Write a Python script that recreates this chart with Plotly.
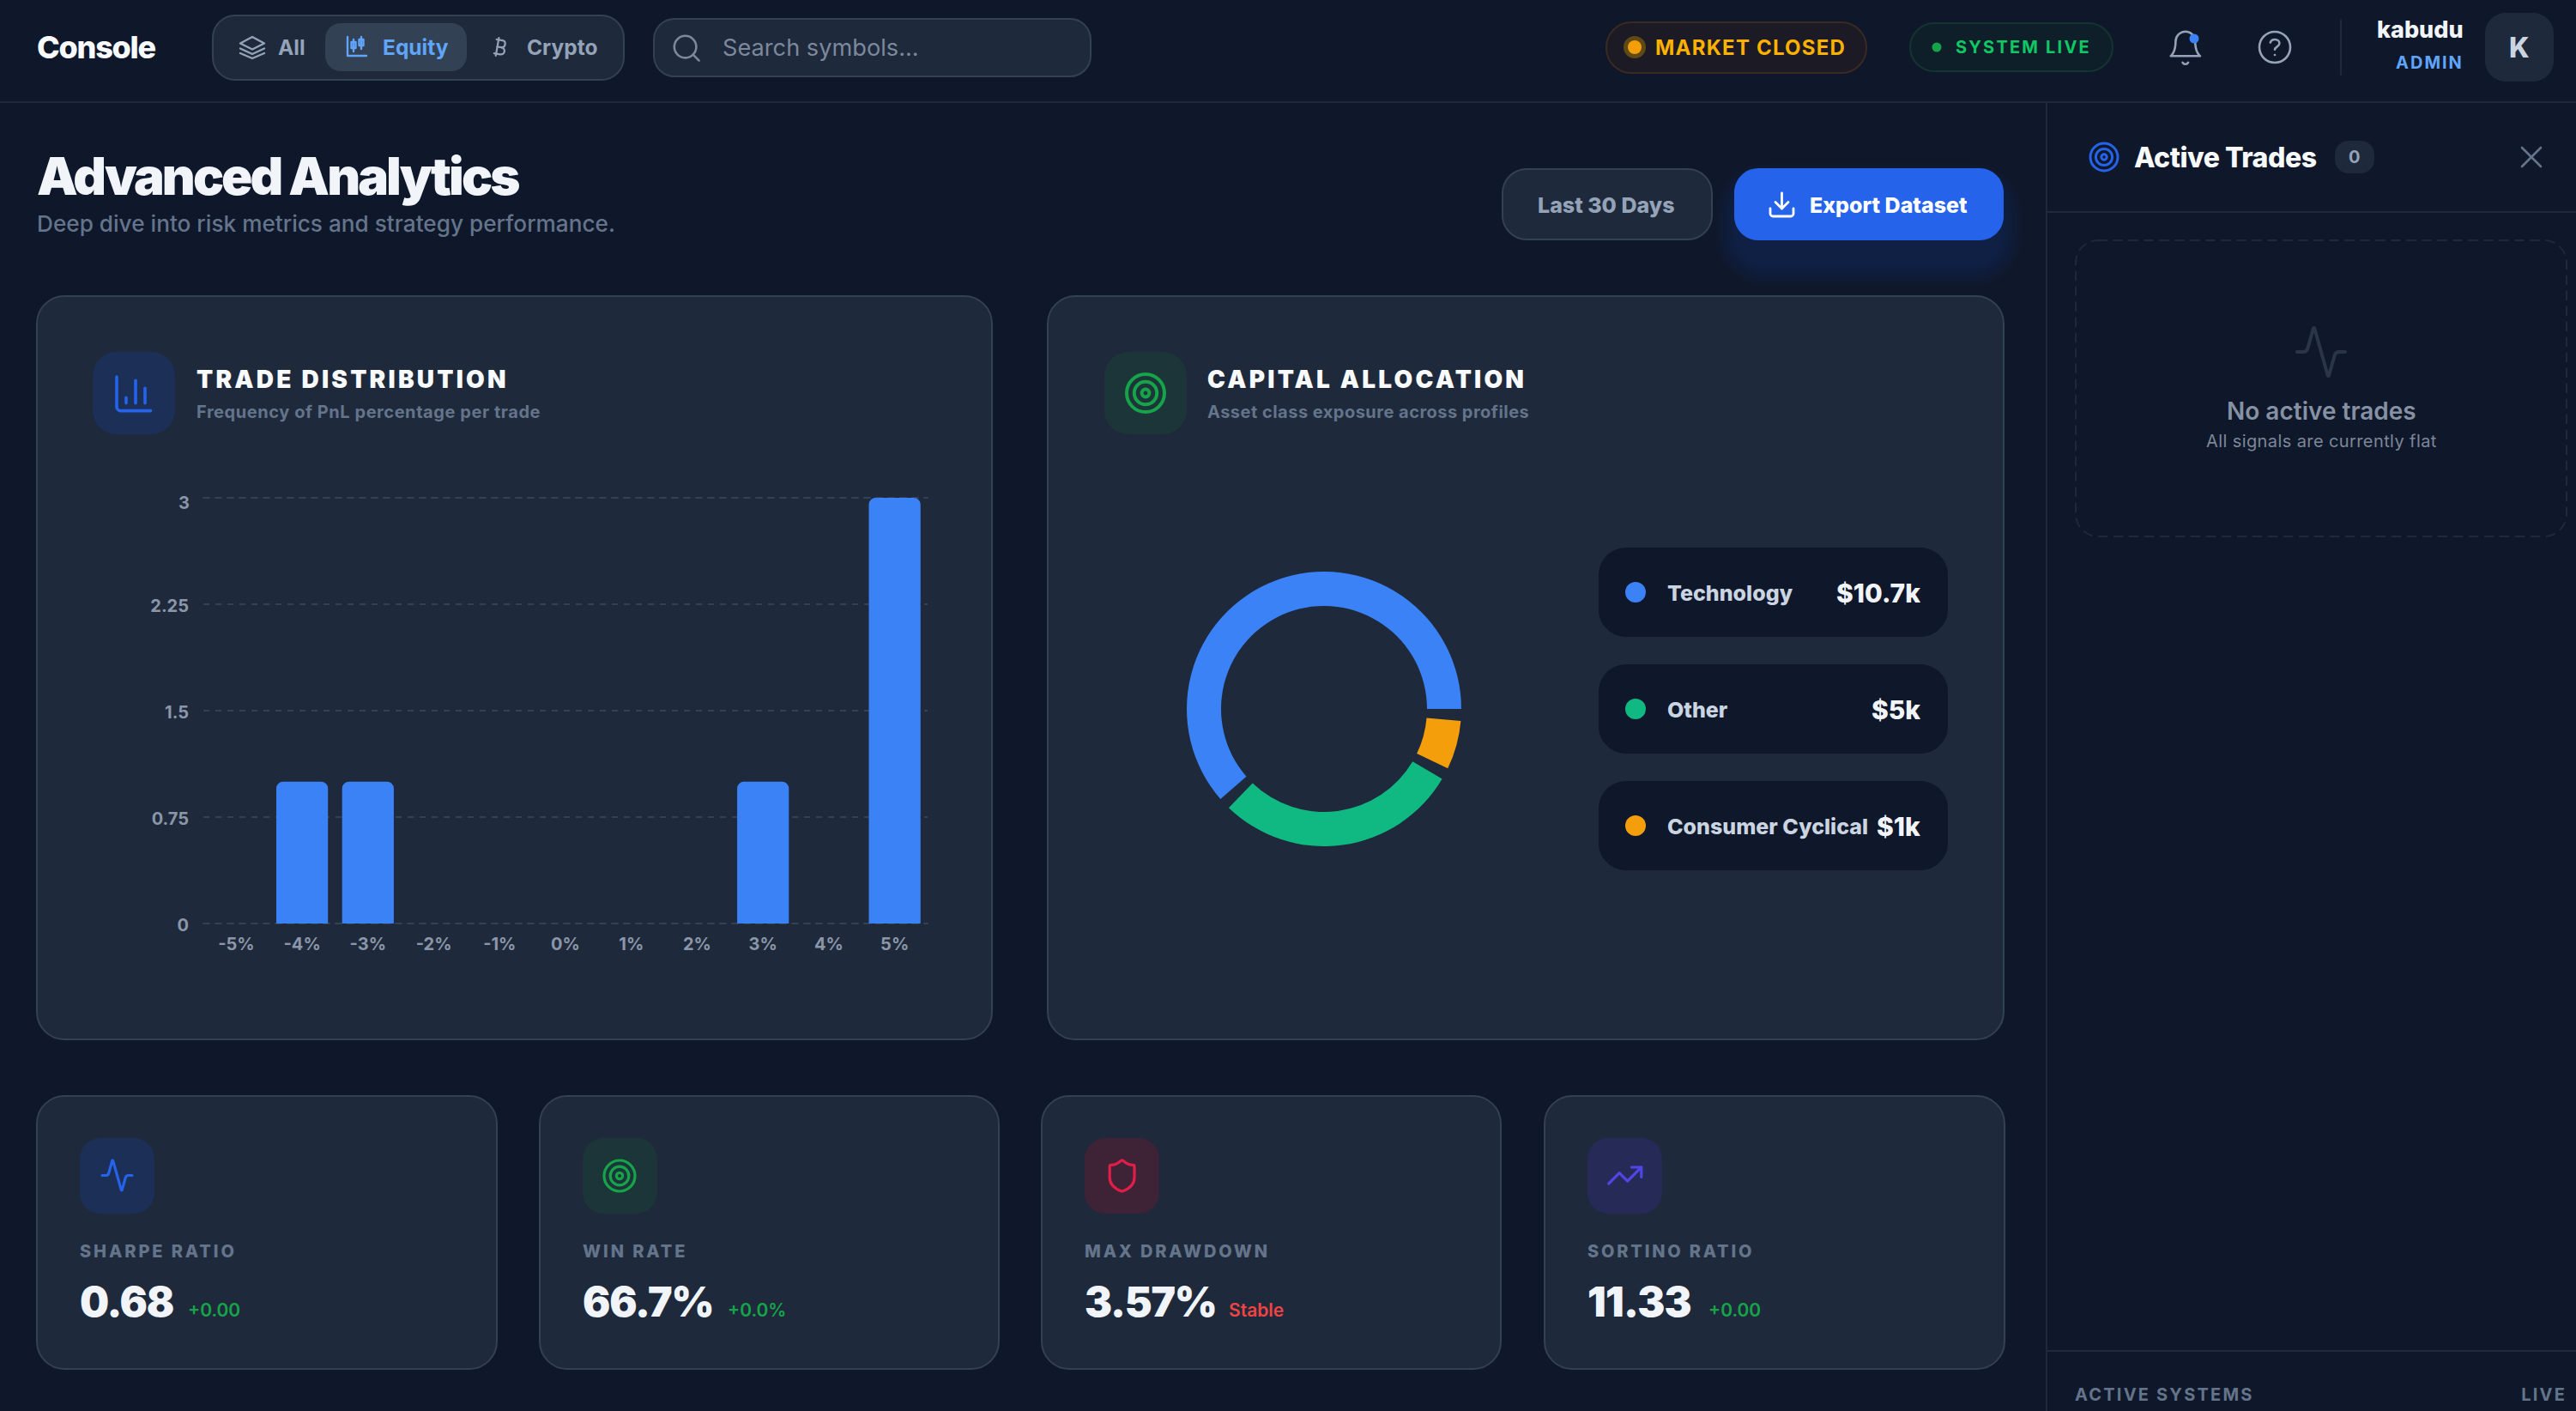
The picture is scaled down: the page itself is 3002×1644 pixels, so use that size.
import plotly.graph_objects as go

W, H = 3002, 1644
BG = "#0f172a"
CARD = "#1e293b"
EDGE = "#334155"

# trade distribution
pnl_bins = ["-5%", "-4%", "-3%", "-2%", "-1%", "0%", "1%", "2%", "3%", "4%", "5%"]
trade_counts = [0, 1, 1, 0, 0, 0, 0, 0, 1, 0, 3]
count_ticks = [0, 0.75, 1.5, 2.25, 3]

# capital allocation
alloc_names = ["Technology", "Other", "Consumer Cyclical"]
alloc_values = [10.7, 5, 1]
alloc_labels = ["$10.7k", "$5k", "$1k"]
alloc_colors = ["#3b82f6", "#10b981", "#f59e0b"]
PAD_ANGLE = 5

# metric cards
metric_names = ["SHARPE RATIO", "WIN RATE", "MAX DRAWDOWN", "SORTINO RATIO"]
metric_values = ["0.68", "66.7%", "3.57%", "11.33"]
metric_deltas = ["+0.00", "+0.0%", "Stable", "+0.00"]
delta_colors = ["#16a34a", "#16a34a", "#ef4444", "#16a34a"]

# letter spacing for the tracked labels (em)
tracking = {
    "Advanced Analytics": -0.049, "Console": -0.035, "Active Trades": -0.015,
    "TRADE DISTRIBUTION": 0.115, "CAPITAL ALLOCATION": 0.115,
    "MARKET CLOSED": 0.05, "SYSTEM LIVE": 0.11, "ADMIN": 0.1,
    "SHARPE RATIO": 0.145, "WIN RATE": 0.145, "MAX DRAWDOWN": 0.14, "SORTINO RATIO": 0.14,
    "ACTIVE SYSTEMS": 0.11, "LIVE": 0.11,
    "0.68": -0.025, "66.7%": -0.025, "3.57%": -0.025, "11.33": -0.015,
    "All signals are currently flat": 0.02,
    "Frequency of PnL percentage per trade": 0.028, "Asset class exposure across profiles": 0.024,
}

shapes = []
notes = []


def fx(x):
    return x / W


def fy(y):
    return 1 - y / H


def add_path(path, fill=None, line=None, width=2, dash=None):
    shapes.append(dict(
        type="path", xref="paper", yref="paper", layer="below", path=path,
        fillcolor=fill or "rgba(0,0,0,0)",
        line=dict(color=line or "rgba(0,0,0,0)", width=width if line else 0, dash=dash or "solid"),
    ))


def rrect(x0, y0, x1, y1, r, fill=None, line=None, width=2, dash=None):
    k = r * 0.45
    cmds = [
        "M", x0 + r, y0, "L", x1 - r, y0, "C", x1 - k, y0, x1, y0 + k, x1, y0 + r,
        "L", x1, y1 - r, "C", x1, y1 - k, x1 - k, y1, x1 - r, y1,
        "L", x0 + r, y1, "C", x0 + k, y1, x0, y1 - k, x0, y1 - r,
        "L", x0, y0 + r, "C", x0, y0 + k, x0 + k, y0, x0 + r, y0, "Z",
    ]
    add_path(grid_path(cmds, 0, 0, 1), fill, line, width, dash)


def grid_path(cmds, ox, oy, s):
    # icon paths are written on a small grid, absolute commands only
    if isinstance(cmds, str):
        cmds = [c if c.isalpha() else float(c) for c in cmds.split()]
    out, is_x = [], True
    for c in cmds:
        if isinstance(c, str):
            out.append(c)
            is_x = True
        else:
            out.append(f"{fx(ox + c * s):.6f}" if is_x else f"{fy(oy + c * s):.6f}")
            is_x = not is_x
    return " ".join(out)


def icon(paths, ox, oy, s, color, width):
    for p in paths:
        add_path(grid_path(p, ox, oy, s), None, color, width)


def circle(cx, cy, r, fill=None, line=None, width=2):
    shapes.append(dict(
        type="circle", xref="paper", yref="paper", layer="below",
        x0=fx(cx - r), x1=fx(cx + r), y0=fy(cy + r), y1=fy(cy - r),
        fillcolor=fill or "rgba(0,0,0,0)",
        line=dict(color=line or "rgba(0,0,0,0)", width=width if line else 0),
    ))


def target(cx, cy, r, color, width):
    for f in (1, 0.6, 0.2):
        circle(cx, cy, r * f, None, color, width)


def label(x, y, text, size, color, weight=400, anchor="left"):
    notes.append(dict(
        xref="paper", yref="paper", x=fx(x), y=fy(y), text=text, showarrow=False,
        xanchor=anchor, yanchor="middle", align=anchor, borderpad=0, borderwidth=0,
        font=dict(family="Inter", size=size, color=color, weight=weight),
    ))


ACTIVITY = "M 22 12 L 19.52 12 C 18.6 12 17.85 12.6 17.59 13.46 L 15.24 21.82 C 15.17 22.06 14.83 22.06 14.76 21.82 L 9.24 2.18 C 9.17 1.94 8.83 1.94 8.76 2.18 L 6.41 10.54 C 6.15 11.4 5.4 12 4.49 12 L 2 12"

# ---- top bar
add_path(grid_path("M 0 119 L 3002 119", 0, 0, 1), None, CARD, 2)
label(43, 55, "Console", 36, "#f8fafc", 800)

rrect(248, 18, 727, 93, 26, CARD, EDGE)
rrect(379, 27, 544, 83, 18, EDGE)
icon(["M 294 43 L 308 50.5 L 294 57.5 L 280 50.5 Z", "M 280 56.5 L 294 63 L 308 56.5", "M 280 62 L 294 68 L 308 62"], 0, 0, 1, "#94a3b8", 2.4)
label(324, 55, "All", 24.5, "#94a3b8", 700)
icon(["M 405 43 L 405 65 L 427 65", "M 412 46 L 412 60", "M 421 43 L 421 57",
      "M 409.5 49 L 414.5 49 L 414.5 56 L 409.5 56 Z", "M 418.5 46 L 423.5 46 L 423.5 53 L 418.5 53 Z"], 0, 0, 1, "#60a5fa", 2.4)
label(446, 55, "Equity", 24.5, "#60a5fa", 700)
icon(["M 7.48 20.36 L 10.6 2.64", "M 8.29 4.26 L 14.2 5.3 C 18.2 6 17.5 12.6 13 12.2 L 9 11.5",
      "M 13 12.2 C 18 13 16.8 19.9 11.77 19.09 L 5.86 18.05"], 569, 41, 1.17, "#94a3b8", 2.2)
label(614, 55, "Crypto", 24.5, "#94a3b8", 700)

rrect(762, 22, 1271, 89, 24, CARD, EDGE)
circle(798.6, 54.6, 12.8, None, "#7c889b", 2.6)
icon(["M 16.65 16.65 L 21 21"], 781, 37, 1.6, "#7c889b", 2.6)
label(842, 55, "Search symbols...", 27.2, "#7c889b")

rrect(1872, 26, 2175, 85, 29, "#1b1a25", "#3b2a22")
circle(1905, 55, 13, "#5f4a16")
circle(1905, 55, 8, "#f59e0b")
label(1929, 56, "MARKET CLOSED", 24, "#fbb100", 700)
rrect(2226, 27, 2462, 83, 28, "#0f1f29", "#12352f")
circle(2257, 55, 5.5, "#16a34a")
label(2279, 55, "SYSTEM LIVE", 20, "#10c765", 700)

icon(["M 6 8 C 6 4.7 8.7 2 12 2 C 15.3 2 18 4.7 18 8 C 18 15 21 17 21 17 L 3 17 C 3 17 6 15 6 8 Z",
      "M 10.3 21 C 11 22.3 13 22.3 13.7 21"], 2524, 33, 1.9, "#94a3b8", 2.6)
circle(2557, 45, 5.5, "#3b82f6")
circle(2651, 55, 18, None, "#94a3b8", 2.6)
icon(["M 9.1 9 C 9.6 7.5 11 7 12 7 C 14 7 15 8.3 15 9.5 C 15 11.5 12 12 12 13.5", "M 12 17 L 12.01 17"],
     2629.4, 33.4, 1.8, "#94a3b8", 2.6)
add_path(grid_path("M 2728 23 L 2728 87", 0, 0, 1), None, CARD, 2)
label(2871, 35, "kabudu", 27, "#f1f5f9", 800, "right")
label(2871, 73, "ADMIN", 20, "#60a5fa", 700, "right")
rrect(2896, 15, 2976, 95, 24, CARD)
label(2936, 56, "K", 32, "#cbd5e1", 800, "center")

# ---- page heading
label(43, 205, "Advanced Analytics", 60, "#f1f5f9", 900)
label(43, 260, "Deep dive into risk metrics and strategy performance.", 26.2, "#64748b", 500)

rrect(1751, 197, 1995, 279, 28, CARD, EDGE)
label(1872, 239, "Last 30 Days", 25, "#94a3b8", 800, "center")
for i in range(9):
    g = 30 - i * 3
    rrect(2021 - g + 8, 196 + 24 - g, 2335 + g - 8, 280 + 24 + g, 28 + g, "rgba(37,99,235,0.016)")
rrect(2021, 196, 2335, 280, 28, "#2563eb")
icon(["M 12 15 L 12 3", "M 21 15 L 21 19 C 21 20 20 21 19 21 L 5 21 C 4 21 3 20 3 19 L 3 15", "M 7 10 L 12 15 L 17 10"],
     2058.5, 220.5, 1.5, "#ffffff", 2.8)
label(2109, 239, "Export Dataset", 25, "#ffffff", 800)

# ---- chart cards
rrect(43, 345, 1156, 1211, 32, CARD, EDGE)
rrect(108, 410, 204, 506, 28, "#1c2f57")
icon(["M 3 3 L 3 19 C 3 20 4 21 5 21 L 21 21", "M 18 17 L 18 9", "M 13 17 L 13 5", "M 8 17 L 8 14"],
     129.4, 432.4, 2.2, "#2563eb", 3.6)
label(229, 442, "TRADE DISTRIBUTION", 28, "#f8fafc", 900)
label(229, 480, "Frequency of PnL percentage per trade", 20, "#64748b", 700)

rrect(1221, 345, 2335, 1211, 32, CARD, EDGE)
rrect(1287, 410, 1383, 506, 28, "#1c3538")
target(1335, 458, 22, "#16a34a", 4)
label(1407, 442, "CAPITAL ALLOCATION", 28, "#f8fafc", 900)
label(1407, 480, "Asset class exposure across profiles", 20, "#64748b", 700)

pill_tops = [638, 774, 910]
for top, name, val, col in zip(pill_tops, alloc_names, alloc_labels, alloc_colors):
    rrect(1863, top, 2270, top + 104, 32, BG)
    circle(1906, top + 52, 12, col)
    label(1943, top + 53, name, 25, "#cbd5e1", 800)
    label(2238, top + 53, val, 30, "#f1f5f9", 800, "right")

# ---- metric cards
card_left = [43, 629, 1214, 1800]
card_right = [579, 1164, 1749, 2336]
tile_fill = ["#1c2f57", "#1c3538", "#3e2337", "#252a57"]
delta_left = [219, 848, 1432, 1991]
for i in range(4):
    x0 = card_left[i]
    rrect(x0, 1277, card_right[i], 1595, 32, CARD, EDGE)
    rrect(x0 + 50, 1326, x0 + 137, 1414, 24, tile_fill[i])
    label(x0 + 50, 1458, metric_names[i], 20, "#64748b", 800)
    label(x0 + 50, 1516, metric_values[i], 48, "#f1f5f9", 900)
    label(delta_left[i], 1526, metric_deltas[i], 21, delta_colors[i], 600)
icon([ACTIVITY], 115.5, 1348.5, 1.75, "#2563eb", 3.2)
target(722, 1370, 18, "#16a34a", 3.2)
icon(["M 20 13 C 20 18 16.5 20.5 12.34 21.95 L 11.67 21.94 C 7.5 20.5 4 18 4 13 L 4 6 C 4 5.4 4.4 5 5 5 C 7 5 9.5 3.8 11.24 2.28 C 11.7 1.9 12.3 1.9 12.76 2.28 C 14.51 3.81 17 5 19 5 C 19.6 5 20 5.4 20 6 Z"],
     1286, 1348.4, 1.8, "#e11d48", 3.2)
icon(["M 22 7 L 13.5 15.5 L 8.5 10.5 L 2 17", "M 16 7 L 22 7 L 22 13"], 1871, 1346.7, 1.9, "#4f46e5", 3.2)

# ---- right panel
add_path(grid_path("M 2385 119 L 2385 1644", 0, 0, 1), None, CARD, 2)
add_path(grid_path("M 2385 247 L 3002 247", 0, 0, 1), None, CARD, 2)
target(2452, 183, 16, "#2563eb", 3)
label(2487, 183, "Active Trades", 32, "#f8fafc", 800)
rrect(2721, 164, 2767, 202, 16, CARD)
label(2744, 183, "0", 20, "#94a3b8", 700, "center")
icon(["M 2939 172 L 2961 194", "M 2961 172 L 2939 194"], 0, 0, 1, "#64748b", 2.6)
rrect(2419, 280, 2991, 625, 26, None, CARD, 2, "10px,8px")
icon([ACTIVITY], 2671.4, 376.4, 2.8, "#2a3547", 4)
label(2705, 479, "No active trades", 28, "#8691a3", 600, "center")
label(2705, 514, "All signals are currently flat", 20, "#7d8798", 400, "center")
add_path(grid_path("M 2385 1574 L 3002 1574", 0, 0, 1), None, CARD, 2)
label(2418, 1625, "ACTIVE SYSTEMS", 20, "#64748b", 700)
label(2991, 1625, "LIVE", 20, "#64748b", 700, "right")

# gridlines on the range ends get dropped by plotly, so these two are drawn by hand
for yy in (580, 1076):
    add_path(grid_path(f"M 237 {yy} L 1081 {yy}", 0, 0, 1), None, EDGE, 2, "7px,7px")

# the top tick label sits a few px under its gridline in the original
notes.append(dict(
    xref="paper", yref="y", x=fx(221), y=count_ticks[-1], yshift=-6, text=str(count_ticks[-1]), showarrow=False,
    xanchor="right", yanchor="middle", borderpad=0, borderwidth=0,
    font=dict(family="Inter", size=20, color="#8b96a8", weight=700),
))

# ---- traces
fig = go.Figure()

# bars start a little under zero so the axis clips the lower corners square
foot = 0.1
fig.add_trace(go.Bar(
    x=pnl_bins, y=[v + foot if v else 0 for v in trade_counts], base=-foot,
    marker=dict(color="#3b82f6", line=dict(width=0)), width=0.785, hoverinfo="skip",
))

# recharts style padding: transparent slices between the real ones, clockwise from 3 o'clock
gap = sum(alloc_values) * PAD_ANGLE / (360 - PAD_ANGLE * len(alloc_values))
slice_values, slice_colors = [], []
for v, c in zip(alloc_values[::-1], alloc_colors[::-1]):
    slice_values += [gap, v]
    slice_colors += ["rgba(0,0,0,0)", c]
fig.add_trace(go.Pie(
    values=slice_values, sort=False, direction="clockwise", rotation=90, hole=0.75,
    marker=dict(colors=slice_colors, line=dict(width=0)), textinfo="none", hoverinfo="skip",
    showlegend=False, domain=dict(x=[fx(1383), fx(1703)], y=[fy(986), fy(666)]),
))

fig.update_layout(
    width=W, height=H, margin=dict(l=0, r=0, t=0, b=0, pad=0),
    paper_bgcolor=BG, plot_bgcolor="rgba(0,0,0,0)", showlegend=False, barcornerradius=8,
    shapes=shapes, annotations=notes,
    xaxis=dict(
        domain=[fx(237), fx(1081)], showgrid=False, zeroline=False, showline=False, fixedrange=True,
        automargin=False, ticks="outside", ticklen=6, tickcolor="rgba(0,0,0,0)",
        tickfont=dict(family="Inter", size=20, color="#8b96a8", weight=700),
    ),
    yaxis=dict(
        domain=[fy(1076), fy(580)], range=[0, 3], tickvals=count_ticks,
        ticktext=[str(t) for t in count_ticks[:-1]] + [""],
        showgrid=True, gridcolor=EDGE, griddash="7px,7px", gridwidth=2, zeroline=False, showline=False,
        automargin=False, ticks="outside", ticklen=12, tickcolor="rgba(0,0,0,0)", fixedrange=True,
        ticklabelshift=2,
        tickfont=dict(family="Inter", size=20, color="#8b96a8", weight=700),
    ),
)

# plotly has no letter spacing option, and the default body margin has to go
post = """
document.documentElement.style.overflow = 'hidden';
document.body.style.margin = '0';
var spacing = %s;
document.querySelectorAll('text.annotation-text').forEach(function (t) {
  var em = spacing[t.textContent];
  if (em !== undefined) { t.style.letterSpacing = em + 'em'; }
});
document.querySelectorAll('.shapelayer path').forEach(function (p) {
  p.style.strokeLinecap = 'round';
  p.style.strokeLinejoin = 'round';
});
""" % tracking

fig.write_html("out.html", post_script=post, config=dict(displayModeBar=False))
